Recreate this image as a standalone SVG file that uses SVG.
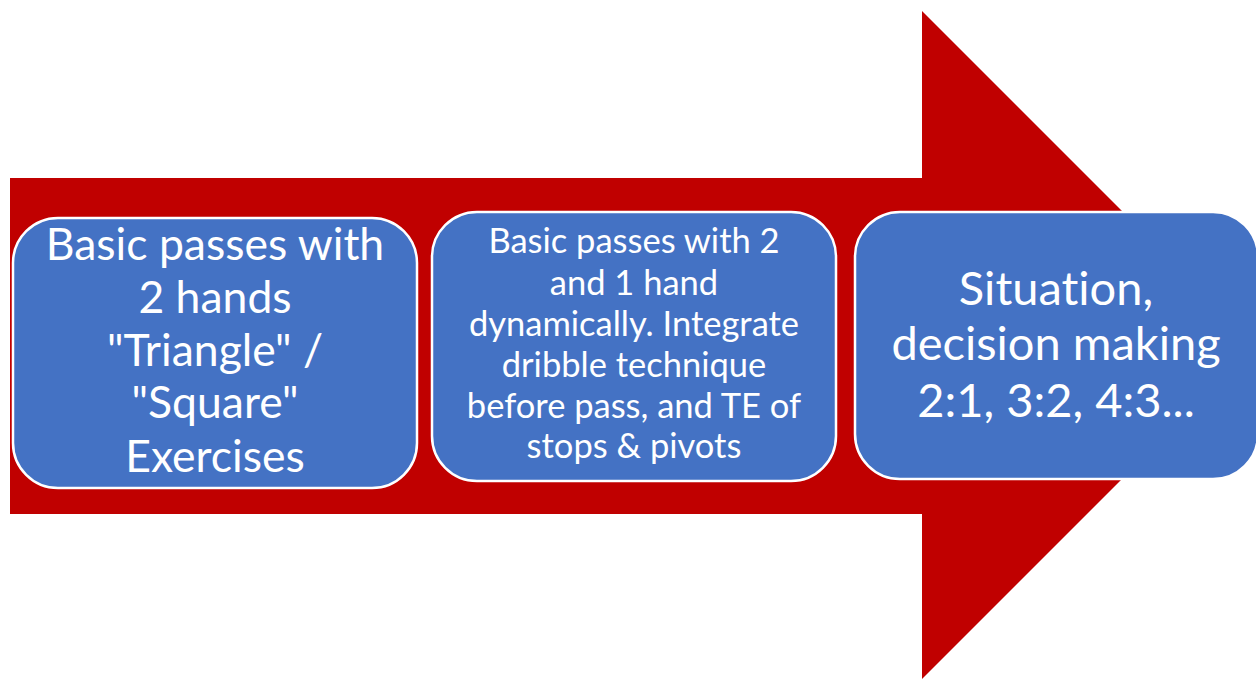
<svg xmlns="http://www.w3.org/2000/svg" width="1256" height="680" viewBox="0 0 1256 680">
<style>
.box{fill:#4472C4;stroke:#ffffff;stroke-width:2.5}
.t{font-family:Lato,"Open Sans","Liberation Sans",sans-serif;fill:#ffffff;text-anchor:middle;font-variant-ligatures:none}
.t1{font-size:44.5px}
.t2{font-size:34.5px}
.t3{font-size:47px}
</style>
<rect width="1256" height="680" fill="#ffffff"/>
<g id="arrow">
<polygon points="10,178 922,178 922,11 1256,345 922,679 922,514 10,514" fill="#C00000"/>
</g>
<g id="connectors"></g>
<g id="node1">
<rect class="box" x="13" y="218" width="404" height="270" rx="45" ry="45"/>
<text class="t t1" x="215" y="260">Basic passes with</text>
<text class="t t1" x="215" y="313">2 hands</text>
<text class="t t1" x="215" y="366">"Triangle" /</text>
<text class="t t1" x="215" y="418">"Square"</text>
<text class="t t1" x="215" y="472">Exercises</text>
</g>
<g id="node2">
<rect class="box" x="432" y="212" width="404" height="269" rx="45" ry="45"/>
<text class="t t2" x="634" y="253">Basic passes with 2</text>
<text class="t t2" x="634" y="295">and 1 hand</text>
<text class="t t2" x="634" y="336">dynamically. Integrate</text>
<text class="t t2" x="634" y="377">dribble technique</text>
<text class="t t2" x="634" y="418">before pass, and TE of</text>
<text class="t t2" x="634" y="458">stops &amp; pivots</text>
</g>
<g id="node3">
<rect class="box" x="855" y="212" width="403" height="267" rx="45" ry="45"/>
<text class="t t3" x="1056" y="305">Situation,</text>
<text class="t t3" x="1056" y="360">decision making</text>
<text class="t t3" x="1056" y="417">2:1, 3:2, 4:3...</text>
</g>
</svg>
